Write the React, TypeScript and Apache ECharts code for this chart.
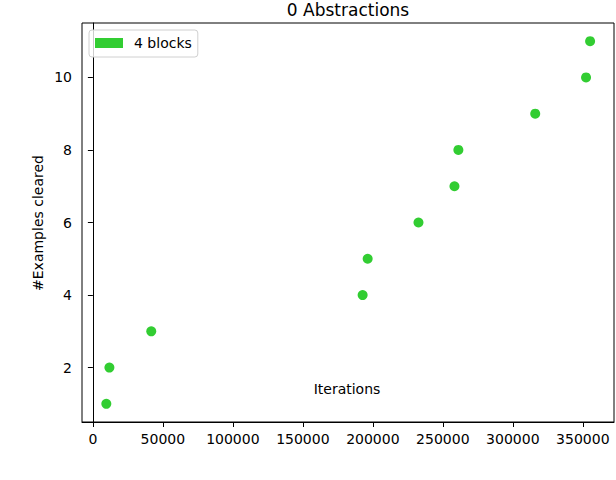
import React, { useEffect, useRef } from "react";
import * as echarts from "echarts";

const seriesName = "4 blocks";
const iterations = [9600, 11800, 41700, 192700, 196300, 232600, 258300, 261100, 316000, 352300, 355200];
const examplesCleared = [1, 2, 3, 4, 5, 6, 7, 8, 9, 10, 11];
const xTicks = [0, 50000, 100000, 150000, 200000, 250000, 300000, 350000];
const yTicks = [2, 4, 6, 8, 10];
const titleText = "0 Abstractions";
const xLabel = "Iterations";
const yLabel = "#Examples cleared";

const FONT = "DejaVu Sans";

export default function App() {
  const ref = useRef<HTMLDivElement>(null);
  useEffect(() => {
    if (!ref.current) return;
    const chart = echarts.init(ref.current, null, { renderer: "svg" });
    const data = iterations.map((x, i) => [x, examplesCleared[i]]);
    chart.setOption({
      animation: false,
      backgroundColor: "#ffffff",
      textStyle: { fontFamily: FONT },
      grid: {
        left: 82,
        right: 2,
        top: 23,
        bottom: 58,
        show: true,
        borderColor: "#000",
        borderWidth: 1,
        backgroundColor: "transparent",
      },
      legend: {
        left: 89,
        top: 30,
        icon: "rect",
        itemWidth: 28,
        itemHeight: 10,
        padding: [6, 6, 7, 6],
        borderColor: "#d0d0d0",
        borderWidth: 1,
        borderRadius: 3,
        backgroundColor: "rgba(255,255,255,0.8)",
        itemStyle: { opacity: 1 },
        textStyle: { fontFamily: FONT, fontSize: 14, color: "#000", lineHeight: 14, padding: [0, 0, 0, 6] },
        data: [seriesName],
      },
      xAxis: {
        type: "value",
        min: -7775,
        max: 372275,
        axisLine: { show: true, lineStyle: { color: "#000", width: 1 } },
        axisTick: { show: true, length: 5, lineStyle: { color: "#000" }, customValues: xTicks },
        axisLabel: {
          fontFamily: FONT,
          fontSize: 14,
          color: "#000",
          margin: 10,
          customValues: xTicks,
          formatter: (v: number) => String(v),
        },
        splitLine: { show: false },
      },
      yAxis: {
        type: "value",
        min: 0.5,
        max: 11.5,
        axisLine: { show: true, lineStyle: { color: "#000", width: 1 } },
        axisTick: { show: true, length: 5, lineStyle: { color: "#000" }, customValues: yTicks },
        axisLabel: {
          fontFamily: FONT,
          fontSize: 14,
          color: "#000",
          margin: 10,
          customValues: yTicks,
          formatter: (v: number) => String(v),
        },
        splitLine: { show: false },
      },
      graphic: [
        {
          type: "text",
          x: 348,
          y: 10,
          style: { text: titleText, font: `17px "${FONT}"`, fill: "#000", align: "center", verticalAlign: "middle" },
        },
        {
          type: "text",
          x: 347,
          y: 389,
          style: { text: xLabel, font: `14px "${FONT}"`, fill: "#000", align: "center", verticalAlign: "middle" },
        },
        {
          type: "text",
          x: 37.5,
          y: 223,
          rotation: Math.PI / 2,
          style: { text: yLabel, font: `14px "${FONT}"`, fill: "#000", align: "center", verticalAlign: "middle" },
        },
      ],
      series: [
        {
          name: seriesName,
          type: "scatter",
          data,
          symbol: "circle",
          symbolSize: 10,
          itemStyle: { color: "#32CD32", opacity: 1 },
        },
      ],
    });
    return () => chart.dispose();
  }, []);
  return <div ref={ref} style={{ position: "fixed", left: 0, top: 0, width: 616, height: 480 }} />;
}
